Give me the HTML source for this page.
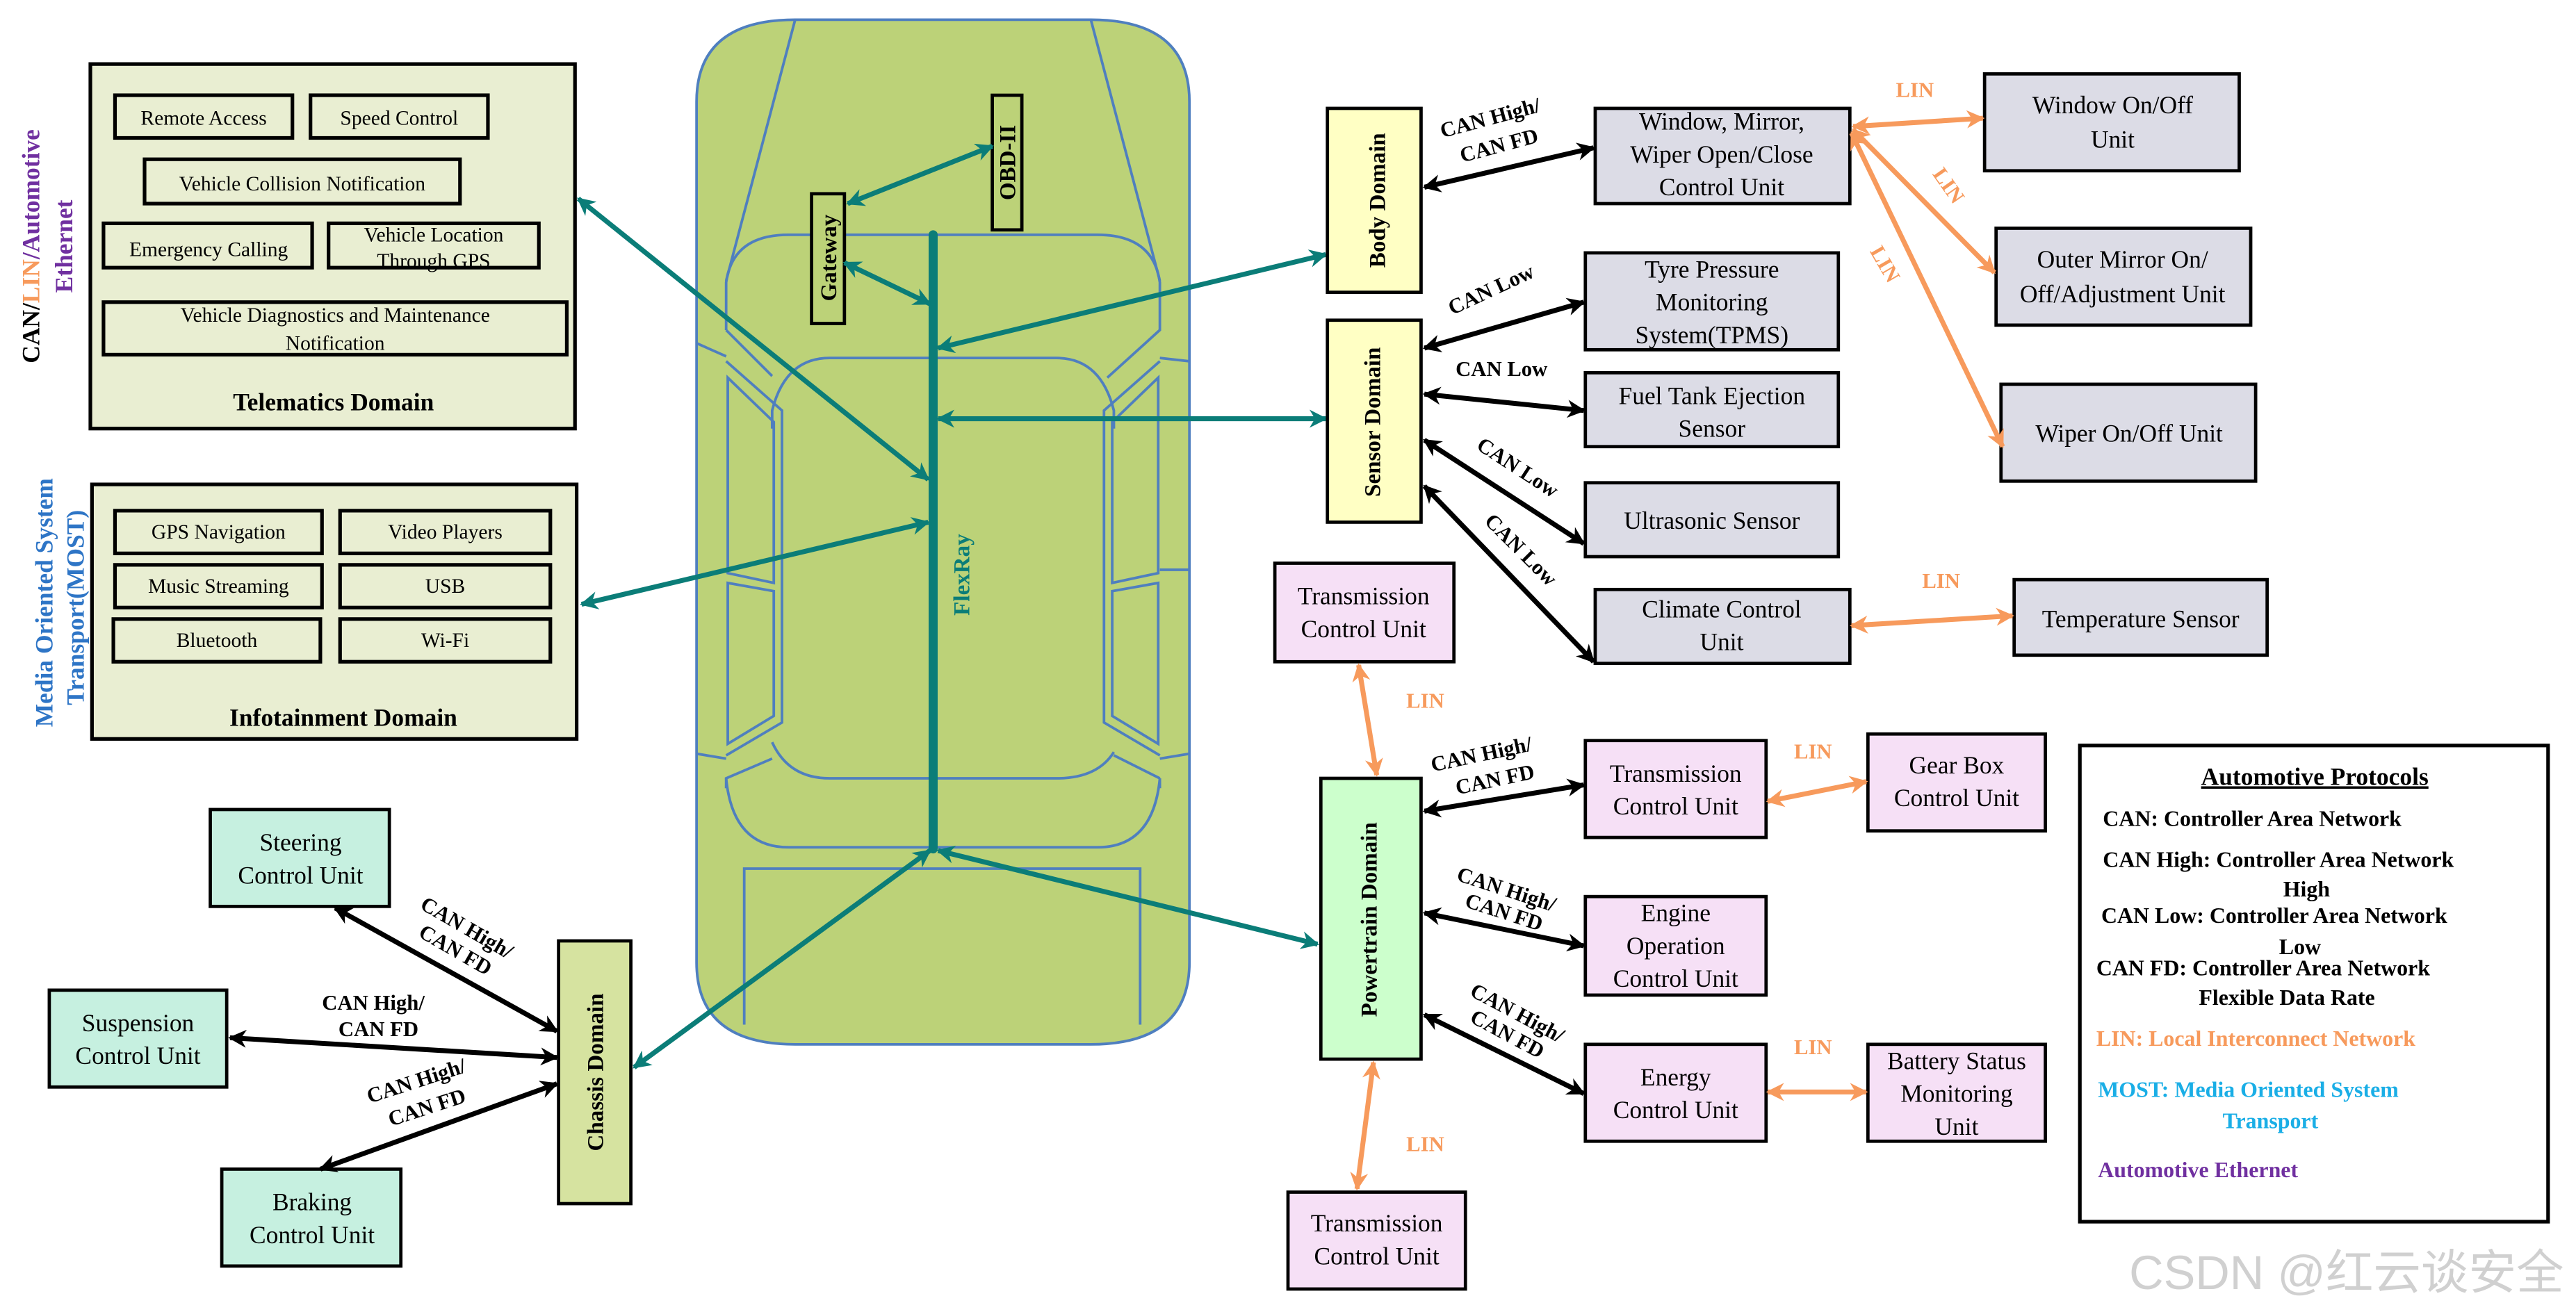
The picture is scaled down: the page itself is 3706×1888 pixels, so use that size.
<!DOCTYPE html>
<html><head><meta charset="utf-8"><style>
html,body{margin:0;padding:0;background:#fff;}
svg{display:block;}
text{font-family:"Liberation Serif",serif;}
.b{font-weight:bold;}
</style></head><body>
<svg width="3706" height="1888" viewBox="0 0 1568 799" preserveAspectRatio="none" xmlns="http://www.w3.org/2000/svg">
<defs>
<marker id="t" viewBox="0 0 10 10" refX="9" refY="5" markerUnits="userSpaceOnUse" markerWidth="18" markerHeight="11" orient="auto-start-reverse"><path d="M0,0L10,5L0,10L3,5z" fill="#0b7d78"/></marker>
<marker id="k" viewBox="0 0 10 10" refX="9" refY="5" markerUnits="userSpaceOnUse" markerWidth="16" markerHeight="11" orient="auto-start-reverse"><path d="M0,0L10,5L0,10L3,5z" fill="#000"/></marker>
<marker id="o" viewBox="0 0 10 10" refX="9" refY="5" markerUnits="userSpaceOnUse" markerWidth="16" markerHeight="11" orient="auto-start-reverse"><path d="M0,0L10,5L0,10L3,5z" fill="#f79a5c"/></marker>
</defs>

<!-- CAR -->
<g stroke="#4f7fbf" stroke-width="1.6" fill="none">
<path d="M424,62 Q424,12 484,12 L664,12 Q724,12 724,62 L724,586 Q724,636 664,636 L484,636 Q424,636 424,586 Z" fill="#bcd278"/>
<path d="M484,12 L442,171 M664,12 L706,171"/>
<path d="M442,201 L442,172 Q446,143 480,143 L668,143 Q702,143 706,172 L706,201 L674,230"/>
<path d="M442,201 L470,229"/>
<path d="M470,261 L470,250 Q478,218 505,218 L643,218 Q670,218 678,250 L678,261"/>
<path d="M470,452 Q480,474 505,474 L643,474 Q668,474 678,458"/>
<path d="M442,474 Q446,516 480,516 L668,516 Q702,516 706,474 L706,480"/>
<path d="M442,480 L442,474 L470,462 M706,474 L678,460"/>
<path d="M453,624 L453,529 L694,529 L694,624"/>
<path d="M443,230 L471,257 L471,355 L443,349 Z"/>
<path d="M443,355 L471,360 L471,436 L443,453 Z"/>
<path d="M705,230 L677,257 L677,355 L705,349 Z"/>
<path d="M705,355 L677,360 L677,436 L705,453 Z"/>
<path d="M442,220 L476,250 L476,440 L442,460"/>
<path d="M706,220 L672,250 L672,440 L706,460"/>
<path d="M424,209 L442,217 M424,459 L442,462 M724,220 L706,218 M724,347 L706,347 M724,459 L706,462"/>
</g>
<line x1="568" y1="143" x2="568" y2="517" stroke="#0b7d78" stroke-width="5.5" stroke-linecap="round"/>
<text transform="translate(590,350) rotate(-90)" text-anchor="middle" font-size="14" fill="#0b7d78" class="b">FlexRay</text>
<rect x="494" y="118" width="20" height="79" fill="#bcd278" stroke="#000" stroke-width="2"/>
<text transform="translate(509,157) rotate(-90)" text-anchor="middle" font-size="14" class="b">Gateway</text>
<rect x="604" y="58" width="18" height="82" fill="#bcd278" stroke="#000" stroke-width="2"/>
<text transform="translate(618,99) rotate(-90)" text-anchor="middle" font-size="14" class="b">OBD-II</text>

<g stroke="#0b7d78" stroke-width="3" fill="none" marker-start="url(#t)" marker-end="url(#t)">
<line x1="516" y1="124" x2="604" y2="89"/>
<line x1="514" y1="160" x2="566" y2="185"/>
<line x1="352" y1="121" x2="565" y2="292"/>
<line x1="354" y1="368" x2="565" y2="318"/>
<line x1="571" y1="212" x2="807" y2="155"/>
<line x1="571" y1="255" x2="807" y2="255"/>
<line x1="386" y1="650" x2="566" y2="518"/>
<line x1="571" y1="518" x2="802" y2="575"/>
</g>

<rect x="55" y="39" width="295" height="222" fill="#e9eed2" stroke="#000" stroke-width="2.2"/>
<g fill="none" stroke="#000" stroke-width="2.2">
<rect x="70" y="58" width="108" height="26"/><rect x="189" y="58" width="108" height="26"/>
<rect x="88" y="97" width="192" height="27"/>
<rect x="63" y="136" width="127" height="27"/><rect x="200" y="136" width="128" height="27"/>
<rect x="63" y="184" width="282" height="32"/>
</g>
<g font-size="12.5" text-anchor="middle">
<text x="124" y="76">Remote Access</text><text x="243" y="76">Speed Control</text>
<text x="184" y="116">Vehicle Collision Notification</text>
<text x="127" y="156">Emergency Calling</text>
<text x="264" y="147">Vehicle Location</text><text x="264" y="163">Through GPS</text>
<text x="204" y="196">Vehicle Diagnostics and Maintenance</text><text x="204" y="213">Notification</text>
</g>
<text x="203" y="250" font-size="15" text-anchor="middle" class="b">Telematics  Domain</text>

<rect x="56" y="295" width="295" height="155" fill="#e9eed2" stroke="#000" stroke-width="2.2"/>
<g fill="none" stroke="#000" stroke-width="2.2">
<rect x="70" y="311" width="126" height="26"/><rect x="207" y="311" width="128" height="26"/>
<rect x="70" y="344" width="126" height="26"/><rect x="207" y="344" width="128" height="26"/>
<rect x="69" y="377" width="126" height="26"/><rect x="207" y="377" width="128" height="26"/>
</g>
<g font-size="12.5" text-anchor="middle">
<text x="133" y="328">GPS Navigation</text><text x="271" y="328">Video Players</text>
<text x="133" y="361">Music Streaming</text><text x="271" y="361">USB</text>
<text x="132" y="394">Bluetooth</text><text x="271" y="394">Wi-Fi</text>
</g>
<text x="209" y="442" font-size="15" text-anchor="middle" class="b">Infotainment  Domain</text>

<text transform="translate(24,150) rotate(-90)" text-anchor="middle" font-size="15" class="b"><tspan fill="#000">CAN/</tspan><tspan fill="#f79a5c">LIN</tspan><tspan fill="#7030a0">/Automotive</tspan></text>
<text transform="translate(44,150) rotate(-90)" text-anchor="middle" font-size="15" class="b" fill="#7030a0">Ethernet</text>
<text transform="translate(32,367) rotate(-90)" text-anchor="middle" font-size="15" class="b" fill="#2e75c6">Media Oriented System</text>
<text transform="translate(51,370) rotate(-90)" text-anchor="middle" font-size="15" class="b" fill="#2e75c6">Transport(MOST)</text>

<rect x="808" y="66" width="57" height="112" fill="#ffffc4" stroke="#000" stroke-width="2"/>
<text transform="translate(843,122) rotate(-90)" text-anchor="middle" font-size="14" class="b">Body Domain</text>
<rect x="808" y="195" width="57" height="123" fill="#ffffc4" stroke="#000" stroke-width="2"/>
<text transform="translate(840,257) rotate(-90)" text-anchor="middle" font-size="14" class="b">Sensor Domain</text>
<rect x="804" y="474" width="61" height="171" fill="#ccffcc" stroke="#000" stroke-width="2"/>
<text transform="translate(838,560) rotate(-90)" text-anchor="middle" font-size="14" class="b">Powertrain Domain</text>
<rect x="340" y="573" width="44" height="160" fill="#d6e3a0" stroke="#000" stroke-width="2"/>
<text transform="translate(367,653) rotate(-90)" text-anchor="middle" font-size="14" class="b">Chassis Domain</text>

<g fill="#dcdce6" stroke="#000" stroke-width="2">
<rect x="971" y="66" width="155" height="58"/>
<rect x="1208" y="45" width="155" height="59"/>
<rect x="1215" y="139" width="155" height="59"/>
<rect x="1218" y="234" width="155" height="59"/>
<rect x="965" y="154" width="154" height="59"/>
<rect x="965" y="227" width="154" height="45"/>
<rect x="965" y="294" width="154" height="45"/>
<rect x="971" y="359" width="155" height="45"/>
<rect x="1226" y="353" width="154" height="46"/>
</g>
<g fill="#f6e0f6" stroke="#000" stroke-width="2">
<rect x="776" y="343" width="109" height="60"/>
<rect x="965" y="451" width="110" height="59"/>
<rect x="1137" y="447" width="108" height="59"/>
<rect x="965" y="546" width="110" height="60"/>
<rect x="965" y="636" width="110" height="59"/>
<rect x="1137" y="636" width="108" height="59"/>
<rect x="784" y="726" width="108" height="59"/>
</g>
<g fill="#c6f0e0" stroke="#000" stroke-width="2">
<rect x="128" y="493" width="109" height="59"/>
<rect x="30" y="603" width="108" height="59"/>
<rect x="135" y="712" width="109" height="59"/>
</g>
<g font-size="15" text-anchor="middle">
<text x="1048" y="79">Window, Mirror,</text><text x="1048" y="99">Wiper Open/Close</text><text x="1048" y="119">Control Unit</text>
<text x="1286" y="69">Window On/Off</text><text x="1286" y="90">Unit</text>
<text x="1292" y="163">Outer Mirror On/</text><text x="1292" y="184">Off/Adjustment Unit</text>
<text x="1296" y="269">Wiper On/Off Unit</text>
<text x="1042" y="169">Tyre Pressure</text><text x="1042" y="189">Monitoring</text><text x="1042" y="209">System(TPMS)</text>
<text x="1042" y="246">Fuel Tank Ejection</text><text x="1042" y="266">Sensor</text>
<text x="1042" y="322">Ultrasonic Sensor</text>
<text x="1048" y="376">Climate Control</text><text x="1048" y="396">Unit</text>
<text x="1303" y="382">Temperature Sensor</text>
<text x="830" y="368">Transmission</text><text x="830" y="388">Control Unit</text>
<text x="1020" y="476">Transmission</text><text x="1020" y="496">Control Unit</text>
<text x="1191" y="471">Gear Box</text><text x="1191" y="491">Control Unit</text>
<text x="1020" y="561">Engine</text><text x="1020" y="581">Operation</text><text x="1020" y="601">Control Unit</text>
<text x="1020" y="661">Energy</text><text x="1020" y="681">Control Unit</text>
<text x="1191" y="651">Battery Status</text><text x="1191" y="671">Monitoring</text><text x="1191" y="691">Unit</text>
<text x="838" y="750">Transmission</text><text x="838" y="770">Control Unit</text>
<text x="183" y="518">Steering</text><text x="183" y="538">Control Unit</text>
<text x="84" y="628">Suspension</text><text x="84" y="648">Control Unit</text>
<text x="190" y="737">Braking</text><text x="190" y="757">Control Unit</text>
</g>

<g stroke="#000" stroke-width="3" marker-start="url(#k)" marker-end="url(#k)">
<line x1="867" y1="114" x2="970" y2="90"/>
<line x1="867" y1="212" x2="964" y2="184"/>
<line x1="867" y1="240" x2="964" y2="250"/>
<line x1="867" y1="268" x2="964" y2="331"/>
<line x1="867" y1="296" x2="970" y2="403"/>
<line x1="867" y1="494" x2="964" y2="478"/>
<line x1="867" y1="556" x2="964" y2="576"/>
<line x1="867" y1="618" x2="964" y2="666"/>
<line x1="339" y1="628" x2="204" y2="553"/>
<line x1="339" y1="644" x2="140" y2="632"/>
<line x1="339" y1="660" x2="195" y2="712"/>
</g>
<g font-size="13" class="b">
<text transform="translate(878,84) rotate(-15)">CAN High/</text>
<text transform="translate(890,99) rotate(-15)">CAN FD</text>
<text transform="translate(884,192) rotate(-25)">CAN Low</text>
<text x="886" y="229">CAN Low</text>
<text transform="translate(898,273) rotate(33)">CAN Low</text>
<text transform="translate(903,318) rotate(45)">CAN Low</text>
<text transform="translate(872,470) rotate(-12)">CAN High/</text>
<text transform="translate(887,484) rotate(-12)">CAN FD</text>
<text transform="translate(886,536) rotate(18)">CAN High/</text>
<text transform="translate(891,552) rotate(18)">CAN FD</text>
<text transform="translate(894,606) rotate(28)">CAN High/</text>
<text transform="translate(894,622) rotate(28)">CAN FD</text>
<text transform="translate(255,553) rotate(30)">CAN High/</text>
<text transform="translate(254,570) rotate(30)">CAN FD</text>
<text x="196" y="615">CAN High/</text>
<text x="206" y="631">CAN FD</text>
<text transform="translate(225,672) rotate(-18)">CAN High/</text>
<text transform="translate(238,686) rotate(-18)">CAN FD</text>
</g>

<g stroke="#f79a5c" stroke-width="3" marker-start="url(#o)" marker-end="url(#o)">
<line x1="1128" y1="77" x2="1207" y2="72"/>
<line x1="1128" y1="79" x2="1214" y2="166"/>
<line x1="1127" y1="81" x2="1219" y2="272"/>
<line x1="1127" y1="381" x2="1225" y2="375"/>
<line x1="827" y1="405" x2="838" y2="472"/>
<line x1="1076" y1="488" x2="1136" y2="476"/>
<line x1="1076" y1="665" x2="1136" y2="665"/>
<line x1="836" y1="647" x2="826" y2="724"/>
</g>
<g font-size="13" class="b" fill="#f79a5c">
<text x="1154" y="59">LIN</text>
<text transform="translate(1176,106) rotate(55)">LIN</text>
<text transform="translate(1138,153) rotate(60)">LIN</text>
<text x="1170" y="358">LIN</text>
<text x="856" y="431">LIN</text>
<text x="1092" y="462">LIN</text>
<text x="1092" y="642">LIN</text>
<text x="856" y="701">LIN</text>
</g>

<rect x="1266" y="454" width="285" height="290" fill="#fff" stroke="#000" stroke-width="2.2"/>
<g font-size="13.5" class="b">
<text x="1409" y="478" font-size="15" text-anchor="middle" text-decoration="underline">Automotive Protocols</text>
<text x="1280" y="503">CAN: Controller Area Network</text>
<text x="1280" y="528">CAN High: Controller Area Network</text>
<text x="1404" y="546" text-anchor="middle">High</text>
<text x="1279" y="562">CAN Low: Controller Area Network</text>
<text x="1400" y="581" text-anchor="middle">Low</text>
<text x="1276" y="594">CAN FD: Controller Area Network</text>
<text x="1392" y="612" text-anchor="middle">Flexible Data Rate</text>
<text x="1276" y="637" fill="#f79a5c">LIN: Local Interconnect Network</text>
<text x="1277" y="668" fill="#1aaee6">MOST: Media Oriented System</text>
<text x="1382" y="687" text-anchor="middle" fill="#1aaee6">Transport</text>
<text x="1277" y="717" fill="#7030a0">Automotive Ethernet</text>
</g>
<text x="1296" y="785" font-size="29" fill="#d0d0d0" style="font-family:'Liberation Sans','Noto Sans CJK SC',sans-serif">CSDN @红云谈安全</text>
</svg>
</body></html>
